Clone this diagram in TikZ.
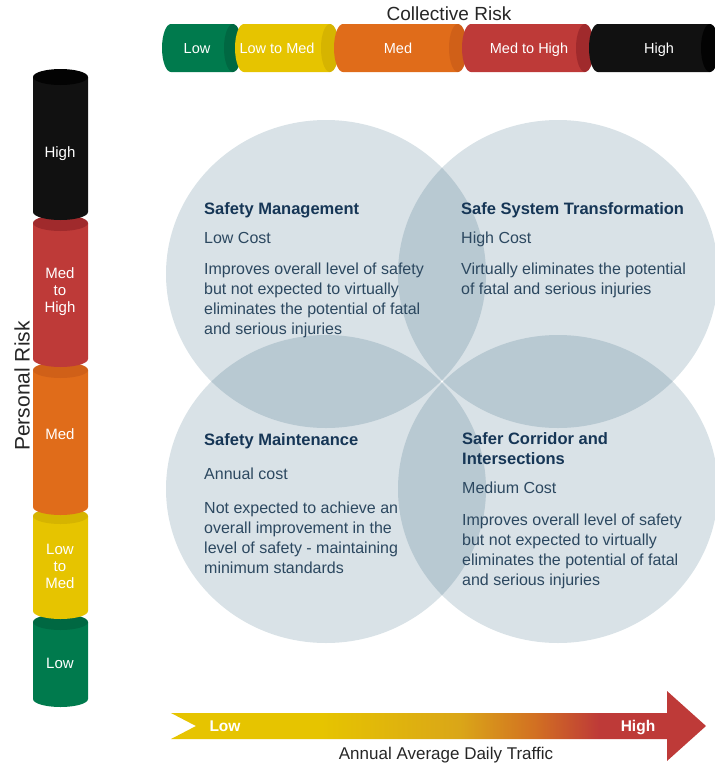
\documentclass[tikz,border=0pt]{standalone}
\usepackage{fontspec}
\setmainfont{Liberation Sans}
\usetikzlibrary{positioning}

\definecolor{rkGreen}{RGB}{0,122,77}
\definecolor{rkGreenCap}{RGB}{0,104,66}
\definecolor{rkYellow}{RGB}{230,196,0}
\definecolor{rkYellowCap}{RGB}{214,180,0}
\definecolor{rkOrange}{RGB}{224,108,26}
\definecolor{rkOrangeCap}{RGB}{208,96,24}
\definecolor{rkRed}{RGB}{190,58,56}
\definecolor{rkRedCap}{RGB}{160,42,44}
\definecolor{rkBlack}{RGB}{17,17,17}
\definecolor{rkBlackCap}{RGB}{3,3,3}
\definecolor{zoneFill}{RGB}{217,226,231}
\definecolor{zoneLens}{RGB}{184,201,210}
\definecolor{headBlue}{RGB}{22,54,86}
\definecolor{bodyBlue}{RGB}{44,72,96}
\definecolor{trafGold}{RGB}{218,166,24}
\definecolor{trafOrange}{RGB}{210,112,34}

\pgfdeclarehorizontalshading{trafficshade}{100bp}{%
  color(0bp)=(rkYellow); color(39bp)=(rkYellow); color(52bp)=(trafGold);
  color(59bp)=(trafOrange); color(65bp)=(rkRed); color(100bp)=(rkRed)}

% horizontal segment: left end, right end, body colour, cap colour
\newcommand{\hbarseg}[4]{%
  \fill[#3] (#1,24) -- (#2,24) -- (#2,72) -- (#1,72)
    arc[start angle=90, end angle=270, x radius=9, y radius=24] -- cycle;
  \fill[#4] (#2,48) ellipse[x radius=9, y radius=24];
}
% vertical segment: top, bottom, body colour, cap colour
\newcommand{\vbarseg}[4]{%
  \fill[#3] (33,#1) -- (88,#1) -- (88,#2)
    arc[start angle=0, end angle=180, x radius=27.5, y radius=8] -- cycle;
  \fill[#4] (60.5,#1) ellipse[x radius=27.5, y radius=8];
}
\newcommand{\zonehead}[1]{{\color{headBlue}\fontsize{16.5}{20}\selectfont\bfseries #1}}

\tikzset{
  zone/.style = {fill=zoneFill},
  lens/.style = {fill=zoneLens},
  % multi-line nodes sit on the baseline of their last line
  block/.style = {
    align=left, inner sep=0pt, anchor=base west,
    text=bodyBlue, font=\fontsize{16}{20}\selectfont,
  },
  seglabel/.style = {
    inner sep=0pt, anchor=base, text=white,
    font=\fontsize{14.5}{17}\selectfont,
  },
  stacklabel/.style = {
    align=center, inner sep=0pt, anchor=base, text=white,
    font=\fontsize{15}{17}\selectfont,
  },
  axistitle/.style = {inner sep=0pt, text=black!85},
}

\begin{document}
\begin{tikzpicture}[x=1pt, y=-1pt]
  \useasboundingbox (0,0) rectangle (715,764);

  % collective risk bar
  \hbarseg{171}{233}{rkGreen}{rkGreenCap}
  \hbarseg{244}{330}{rkYellow}{rkYellowCap}
  \hbarseg{343}{458}{rkOrange}{rkOrangeCap}
  \hbarseg{471}{585}{rkRed}{rkRedCap}
  \hbarseg{598}{710}{rkBlack}{rkBlackCap}

  \node[axistitle, anchor=base, font=\fontsize{19}{22}\selectfont]
    (collective) at (449,20) {Collective Risk};
  \node[seglabel] (cLow) at (197,53) {Low};
  \node[seglabel] (cLowMed) at (277,53) {Low to Med};
  \node[seglabel] (cMed) at (398,53) {Med};
  \node[seglabel] (cMedHigh) at (529,53) {Med to High};
  \node[seglabel] (cHigh) at (659,53) {High};

  % personal risk stack
  \vbarseg{622}{699}{rkGreen}{rkGreenCap}
  \vbarseg{516}{611}{rkYellow}{rkYellowCap}
  \vbarseg{370}{507}{rkOrange}{rkOrangeCap}
  \vbarseg{223}{359}{rkRed}{rkRedCap}
  \vbarseg{77}{212}{rkBlack}{rkBlackCap}

  \node[axistitle, rotate=90, font=\fontsize{21}{24}\selectfont]
    (personal) at (22,386) {Personal Risk};
  \node[stacklabel] (pHigh) at (60,157.5) {High};
  \node[stacklabel] (pMedHigh) at (60,312.5) {Med\\to\\High};
  \node[stacklabel] (pMed) at (60,439.5) {Med};
  \node[stacklabel] (pLowMed) at (60,588.5) {Low\\to\\Med};
  \node[stacklabel] (pLow) at (60,668.5) {Low};

  % four treatment zones
  \coordinate (zoneTL) at (326,274);
  \coordinate (zoneTR) at (558,274);
  \coordinate (zoneBL) at (326,489);
  \coordinate (zoneBR) at (558,489);
  \foreach \z in {TL,TR,BL,BR}
    \fill[zone] (zone\z) ellipse[x radius=160, y radius=154];
  \foreach \a/\b in {TL/TR, TL/BL, TR/BR, BL/BR} {
    \begin{scope}
      \clip (zone\a) ellipse[x radius=160, y radius=154];
      \fill[lens] (zone\b) ellipse[x radius=160, y radius=154];
    \end{scope}
  }

  \node[block] (mgmt) at (204,334) {%
    \zonehead{Safety Management}\\[9pt]
    Low Cost\\[11pt]
    Improves overall level of safety\\
    but not expected to virtually\\
    eliminates the potential of fatal\\
    and serious injuries};
  \node[block] (transform) at (461,294) {%
    \zonehead{Safe System Transformation}\\[9pt]
    High Cost\\[11pt]
    Virtually eliminates the potential\\
    of fatal and serious injuries};
  \node[block] (maint) at (204,573) {%
    \zonehead{Safety Maintenance}\\[14pt]
    Annual cost\\[14pt]
    Not expected to achieve an\\
    overall improvement in the\\
    level of safety - maintaining\\
    minimum standards};
  \node[block] (corridor) at (462,585) {%
    \zonehead{Safer Corridor and}\\
    \zonehead{Intersections}\\[9pt]
    Medium Cost\\[12pt]
    Improves overall level of safety\\
    but not expected to virtually\\
    eliminates the potential of fatal\\
    and serious injuries};

  % traffic arrow
  \shade[shading=trafficshade]
    (171,713) -- (667,713) -- (667,691) -- (706,726) -- (667,761)
    -- (667,739) -- (171,739) -- (196,726) -- cycle;
  \node[seglabel, font=\fontsize{15.5}{18}\selectfont\bfseries]
    (tLow) at (225,731) {Low};
  \node[seglabel, font=\fontsize{15.5}{18}\selectfont\bfseries]
    (tHigh) at (638,731) {High};
  \node[axistitle, anchor=base, font=\fontsize{17}{20}\selectfont]
    (traffic) at (446,759) {Annual Average Daily Traffic};
\end{tikzpicture}
\end{document}
